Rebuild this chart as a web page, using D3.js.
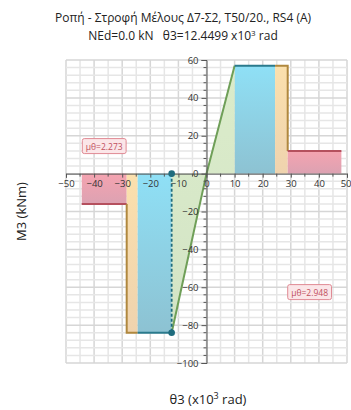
<!DOCTYPE html>
<html>
<head>
<meta charset="utf-8">
<script src="https://cdn.jsdelivr.net/npm/d3@7"></script>
<style>
  body { margin: 0; background: #fff; }
  text { font-family: "Open Sans", "Noto Sans", sans-serif; }
</style>
</head>
<body>
<svg></svg>
<script>
// θ3 (x10^3 rad) and M3 (kNm)
const redLeft = { x: [-44.4, -28.4], m: -16 };
const orangeLeft = { x: [-28.4, -24.5], m: -84 };
const cyanLeft = { x: [-24.5, -12.4], m: -84 };
const greenCurve = [[-12.4, -84], [0, 0], [10, 57]];
const cyanRight = { x: [10, 24.4], m: 57 };
const orangeRight = { x: [24.4, 28.9], m: 57 };
const redRight = { x: [28.9, 48], m: 12 };
const thetaTarget = -12.4;
const xTicks = [-50, -40, -30, -20, -10, 0, 10, 20, 30, 40, 50];
const yTicks = [-100, -80, -60, -40, -20, 0, 20, 40, 60];
const muLabels = [
    { text: "μθ=2.273", x: -44.2, y: 18.5 },
    { text: "μθ=2.948", x: 28.9, y: -58.6 }
];

const width = 351, height = 410;
const margin = { top: 60, right: 4, bottom: 47, left: 66 };

const svg = d3.select("svg")
    .attr("width", width)
    .attr("height", height);

const x = d3.scaleLinear().domain([-50, 50]).range([margin.left, width - margin.right]);
const y = d3.scaleLinear().domain([-100, 60]).range([height - margin.bottom, margin.top]);

const defs = svg.append("defs");
function grad(id, top, bottom) {
    const g = defs.append("linearGradient").attr("id", id)
        .attr("x1", 0).attr("x2", 0).attr("y1", 0).attr("y2", 1);
    g.append("stop").attr("offset", "0%").attr("stop-color", top);
    g.append("stop").attr("offset", "100%").attr("stop-color", bottom);
}
grad("gRed", "#f5a3b0", "#dca2b2");
grad("gOrange", "#fbe0ad", "#efd3ae");
grad("gCyan", "#8fe0f6", "#8dc2d2");
grad("gGreen", "#dbecca", "#d3e4c6");

// grid
const grid = svg.append("g");
grid.selectAll(".vx")
    .data(d3.range(-50, 51, 5))
    .enter().append("line")
    .attr("x1", d => x(d)).attr("x2", d => x(d))
    .attr("y1", y(60)).attr("y2", y(-100))
    .attr("stroke", d => d % 10 === 0 ? "#d6d6d6" : "#e6e6e6")
    .attr("stroke-width", 1.5);
grid.selectAll(".hy")
    .data(d3.range(-100, 61, 4))
    .enter().append("line")
    .attr("x1", x(-50)).attr("x2", x(50))
    .attr("y1", d => y(d)).attr("y2", d => y(d))
    .attr("stroke", d => d % 20 === 0 ? "#d6d6d6" : "#e6e6e6")
    .attr("stroke-width", 1.5);

// filled blocks
function block(b, fill) {
    svg.append("rect")
        .attr("x", x(b.x[0]))
        .attr("width", x(b.x[1]) - x(b.x[0]))
        .attr("y", Math.min(y(0), y(b.m)))
        .attr("height", Math.abs(y(b.m) - y(0)))
        .attr("fill", fill);
}
block(redLeft, "url(#gRed)");
block(orangeLeft, "url(#gOrange)");
block(cyanLeft, "url(#gCyan)");
block(cyanRight, "url(#gCyan)");
block(orangeRight, "url(#gOrange)");
block(redRight, "url(#gRed)");

// green area under the elastic branch
const line = d3.line().x(d => x(d[0])).y(d => y(d[1]));
svg.append("path")
    .attr("d", line([[thetaTarget, 0], ...greenCurve, [greenCurve[2][0], 0]]) + "Z")
    .attr("fill", "url(#gGreen)");

// outlines
function seg(pts, color) {
    svg.append("path").attr("d", line(pts))
        .attr("fill", "none").attr("stroke", color).attr("stroke-width", 2);
}
seg([[redLeft.x[0], redLeft.m], [redLeft.x[1], redLeft.m]], "#b5505e");
seg([[orangeLeft.x[0], redLeft.m], [orangeLeft.x[0], orangeLeft.m], [orangeLeft.x[1], orangeLeft.m]], "#b0883e");
seg([[cyanLeft.x[0], cyanLeft.m], [cyanLeft.x[1], cyanLeft.m]], "#2a7a8c");
seg(greenCurve, "#6f9f58");
seg([[cyanRight.x[0], cyanRight.m], [cyanRight.x[1], cyanRight.m]], "#2a7a8c");
seg([[orangeRight.x[0], orangeRight.m], [orangeRight.x[1], orangeRight.m], [orangeRight.x[1], redRight.m]], "#b0883e");
seg([[redRight.x[0], redRight.m], [redRight.x[1], redRight.m]], "#b5505e");

// axes through origin
const xAxis = svg.append("g")
    .attr("transform", `translate(0,${y(0)})`)
    .call(d3.axisBottom(x).tickValues(xTicks).tickSize(4).tickPadding(3));
xAxis.select(".domain").attr("stroke", "#555");
xAxis.selectAll(".tick line").attr("stroke", "#555");
xAxis.selectAll("text").attr("font-size", 9.5).attr("fill", "#333");
xAxis.selectAll(".tick text").filter(d => d === 50).attr("text-anchor", "end").attr("dx", 4);
xAxis.selectAll(".minor").data(d3.range(-45, 50, 10)).enter().append("line")
    .attr("x1", d => x(d)).attr("x2", d => x(d)).attr("y1", 0).attr("y2", 3).attr("stroke", "#555");

const yAxis = svg.append("g")
    .attr("transform", `translate(${x(0)},0)`)
    .call(d3.axisLeft(y).tickValues(yTicks).tickSize(5).tickPadding(3));
yAxis.select(".domain").attr("stroke", "#555");
yAxis.selectAll(".tick line").attr("stroke", "#555");
yAxis.selectAll("text").attr("font-size", 9.5).attr("fill", "#333");
yAxis.selectAll(".minor").data(d3.range(-100, 61, 4).filter(d => d % 20 !== 0)).enter().append("line")
    .attr("x1", -3).attr("x2", 0).attr("y1", d => y(d)).attr("y2", d => y(d)).attr("stroke", "#555");

// target rotation
svg.append("line")
    .attr("x1", x(thetaTarget)).attr("x2", x(thetaTarget))
    .attr("y1", y(0)).attr("y2", y(cyanLeft.m))
    .attr("stroke", "#1f6c7e").attr("stroke-width", 1.8)
    .attr("stroke-dasharray", "3,2");
svg.selectAll(".dot")
    .data([0, cyanLeft.m])
    .enter().append("circle")
    .attr("cx", x(thetaTarget)).attr("cy", d => y(d)).attr("r", 3.3)
    .attr("fill", "#1f6c7e");

// ductility labels
muLabels.forEach(l => {
    const g = svg.append("g").attr("transform", `translate(${x(l.x)},${y(l.y)})`);
    const t = g.append("text").attr("x", 3.5).attr("y", 11)
        .attr("font-size", 8.5).attr("fill", "#c0505e").text(l.text);
    const w = t.node().getComputedTextLength() + 7;
    g.insert("rect", "text")
        .attr("width", w).attr("height", 15).attr("rx", 2)
        .attr("fill", "#fbe6e8").attr("stroke", "#e08a94");
});

// titles
svg.append("text").attr("x", 183).attr("y", 22)
    .attr("text-anchor", "middle").attr("font-size", 12).attr("fill", "#222")
    .text("Ροπή - Στροφή Μέλους Δ7-Σ2, Τ50/20., RS4 (A)");
svg.append("text").attr("x", 183).attr("y", 40)
    .attr("text-anchor", "middle").attr("font-size", 12).attr("fill", "#222")
    .html("NEd=0.0 kN&#160;&#160;&#160;θ3=12.4499 x10<tspan font-size='8' dy='-4'>3</tspan><tspan dy='4'> rad</tspan>");
svg.append("text")
    .attr("transform", `translate(26,${(y(60) + y(-100)) / 2}) rotate(-90)`)
    .attr("text-anchor", "middle").attr("font-size", 13).attr("fill", "#222")
    .text("M3 (kNm)");
svg.append("text").attr("x", 208).attr("y", 404)
    .attr("text-anchor", "middle").attr("font-size", 13).attr("fill", "#222")
    .html("θ3 (x10<tspan font-size='9' dy='-5'>3</tspan><tspan dy='5'> rad)</tspan>");
</script>
</body>
</html>
